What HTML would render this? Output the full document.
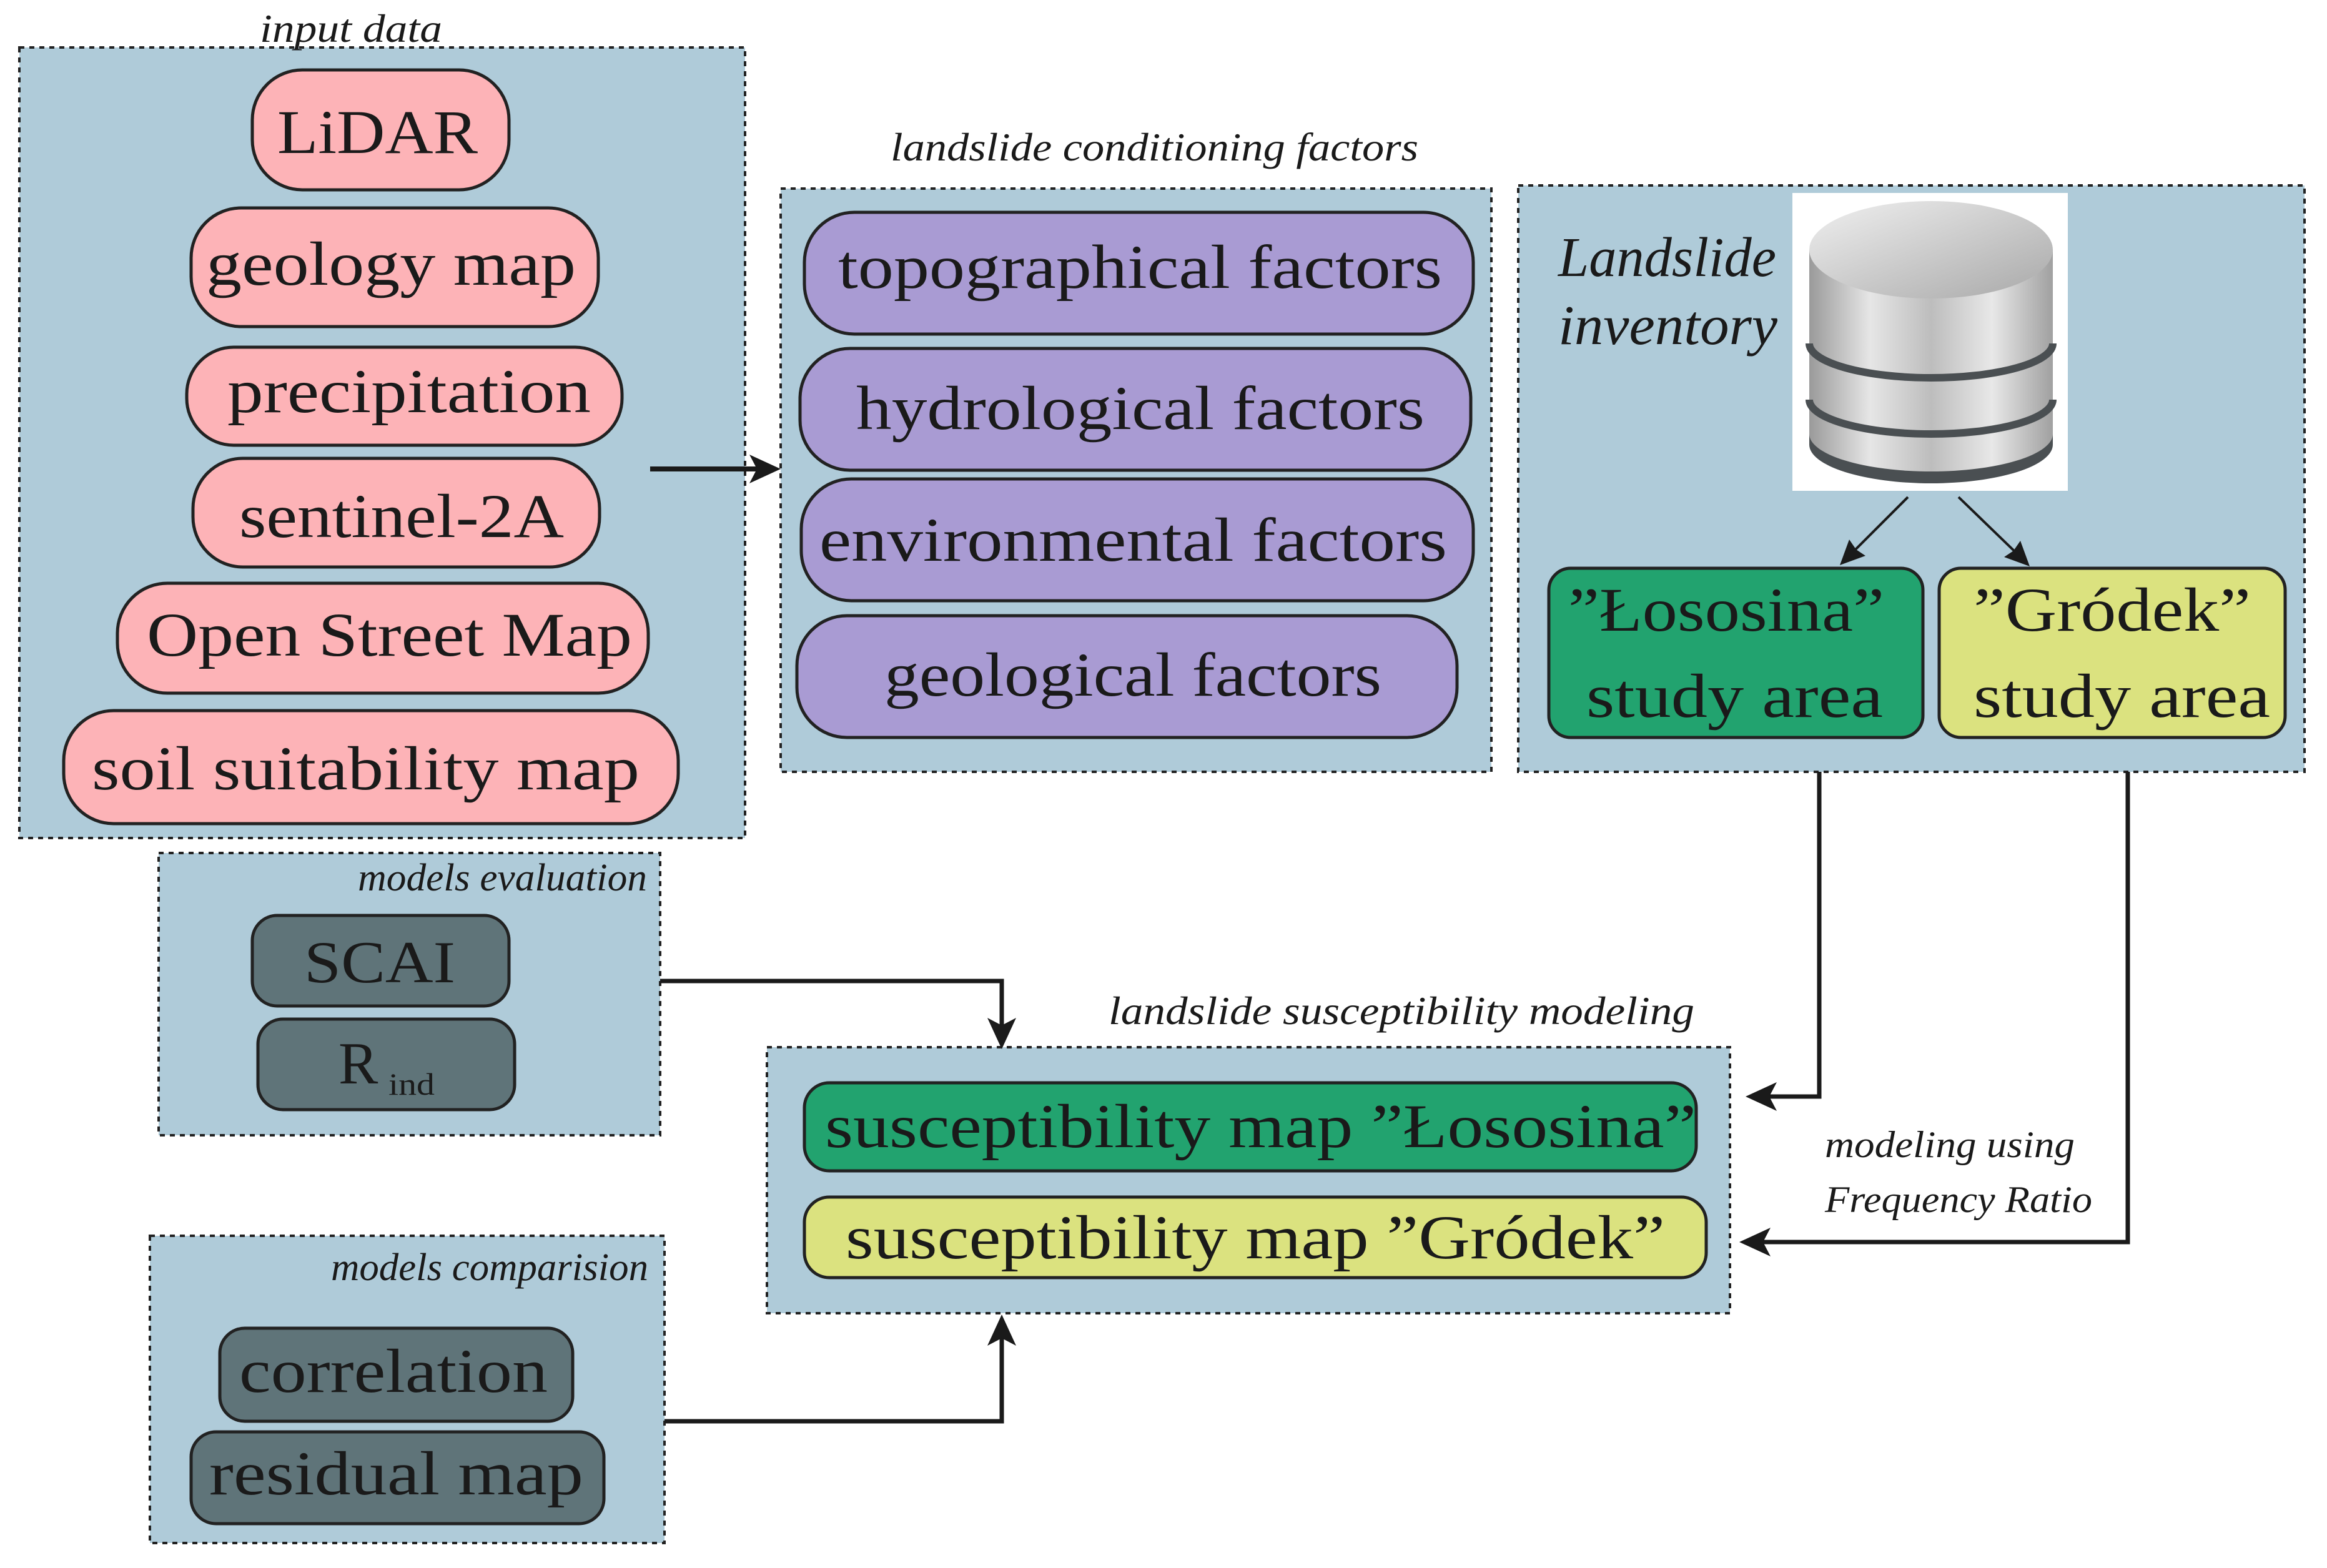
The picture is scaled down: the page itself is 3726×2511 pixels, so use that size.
<!DOCTYPE html>
<html><head><meta charset="utf-8"><style>html,body{margin:0;padding:0;background:#fff}svg{display:block}</style></head><body>
<svg width="3726" height="2511" viewBox="0 0 3726 2511" xmlns="http://www.w3.org/2000/svg" font-family="Liberation Serif, serif">
<defs>
<linearGradient id="cyl" x1="0" x2="1" y1="0" y2="0"><stop offset="0" stop-color="#9a9a9a"/><stop offset="0.25" stop-color="#e6e6e6"/><stop offset="0.5" stop-color="#bdbdbd"/><stop offset="0.75" stop-color="#e8e8e8"/><stop offset="1" stop-color="#a0a0a0"/></linearGradient>
<linearGradient id="top" x1="0" x2="1" y1="0" y2="1"><stop offset="0" stop-color="#f0f0f0"/><stop offset="1" stop-color="#a8a8a8"/></linearGradient>
</defs>
<g fill="#afcbd9" stroke="#222" stroke-width="4" stroke-dasharray="8,8">
<rect x="31" y="76" width="1162" height="1266"/>
<rect x="1250" y="302" width="1138" height="934"/>
<rect x="2431" y="297" width="1259" height="939"/>
<rect x="254" y="1366" width="803" height="452"/>
<rect x="240" y="1979" width="824" height="492"/>
<rect x="1228" y="1677" width="1542" height="426"/>
</g>
<g fill="#fdb3b7" stroke="#222" stroke-width="5">
<rect x="404" y="112" width="411" height="192" rx="80"/>
<rect x="306" y="333" width="652" height="190" rx="80"/>
<rect x="299" y="556" width="697" height="157" rx="75"/>
<rect x="309" y="734" width="651" height="174" rx="80"/>
<rect x="188" y="934" width="850" height="176" rx="80"/>
<rect x="102" y="1138" width="984" height="181" rx="80"/>
</g>
<g fill="#a99bd3" stroke="#222" stroke-width="5">
<rect x="1288" y="340" width="1071" height="195" rx="80"/>
<rect x="1281" y="558" width="1074" height="195" rx="80"/>
<rect x="1283" y="767" width="1076" height="195" rx="80"/>
<rect x="1276" y="986" width="1057" height="195" rx="80"/>
</g>
<g stroke="#222" stroke-width="5">
<rect x="2480" y="910" width="599" height="271" rx="35" fill="#22a36f"/>
<rect x="3105" y="910" width="554" height="271" rx="35" fill="#dbe27f"/>
<rect x="1288" y="1734" width="1428" height="141" rx="40" fill="#22a36f"/>
<rect x="1288" y="1917" width="1444" height="129" rx="40" fill="#dbe27f"/>
<rect x="404" y="1466" width="411" height="145" rx="40" fill="#5f7479"/>
<rect x="413" y="1632" width="411" height="145" rx="40" fill="#5f7479"/>
<rect x="352" y="2127" width="565" height="149" rx="40" fill="#5f7479"/>
<rect x="306" y="2293" width="661" height="147" rx="40" fill="#5f7479"/>
</g>
<!-- database -->
<rect x="2870" y="309" width="441" height="477" fill="#fff"/>
<g>
<path d="M2897,400 L2897,700 A195,60 0 0 0 3287,700 L3287,400 Z" fill="url(#cyl)"/>
<path d="M2897,695 A195,60 0 0 0 3287,695 L3287,712 A195,62 0 0 1 2897,712 Z" fill="#4a4f52"/>
<ellipse cx="3092" cy="400" rx="195" ry="78" fill="url(#top)"/>
<path d="M2897,550 A195,55 0 0 0 3287,550" fill="none" stroke="#4a4f52" stroke-width="12"/>
<path d="M2897,640 A195,55 0 0 0 3287,640" fill="none" stroke="#4a4f52" stroke-width="12"/>
</g>
<!-- connectors -->
<g stroke="#1a1a1a" fill="none">
<line x1="1041" y1="751" x2="1215" y2="751" stroke-width="8"/>
<line x1="3055" y1="796" x2="2968" y2="883" stroke-width="4"/>
<line x1="3136" y1="796" x2="3228" y2="885" stroke-width="4"/>
<polyline points="1057,1571 1604,1571 1604,1645" stroke-width="7"/>
<polyline points="1064,2276 1604,2276 1604,2140" stroke-width="7"/>
<polyline points="2913,1236 2913,1756 2830,1756" stroke-width="7"/>
<polyline points="3407,1236 3407,1989 2820,1989" stroke-width="7"/>
</g>
<g fill="#1a1a1a">
<polygon points="1250,751 1200,728 1212,751 1200,774"/>
<polygon points="2946,905 2987,890 2972,880 2961,864"/>
<polygon points="3250,907 3209,892 3224,882 3235,866"/>
<polygon points="1604,1680 1581,1630 1604,1642 1627,1630"/>
<polygon points="1604,2105 1581,2155 1604,2143 1627,2155"/>
<polygon points="2795,1756 2845,1733 2833,1756 2845,1779"/>
<polygon points="2785,1989 2835,1966 2823,1989 2835,2012"/>
</g>
<g fill="#1a1a1a">
<text x="444" y="245" font-size="100" textLength="321" lengthAdjust="spacingAndGlyphs">LiDAR</text>
<text x="330" y="456" font-size="100" textLength="592" lengthAdjust="spacingAndGlyphs">geology map</text>
<text x="364" y="660" font-size="100" textLength="582" lengthAdjust="spacingAndGlyphs">precipitation</text>
<text x="383" y="860" font-size="100" textLength="520" lengthAdjust="spacingAndGlyphs">sentinel-2A</text>
<text x="235" y="1050" font-size="100" textLength="777" lengthAdjust="spacingAndGlyphs">Open Street Map</text>
<text x="147" y="1264" font-size="100" textLength="877" lengthAdjust="spacingAndGlyphs">soil suitability map</text>
<text x="1342" y="461" font-size="100" textLength="967" lengthAdjust="spacingAndGlyphs">topographical factors</text>
<text x="1371" y="687" font-size="100" textLength="910" lengthAdjust="spacingAndGlyphs">hydrological factors</text>
<text x="1312" y="898" font-size="100" textLength="1005" lengthAdjust="spacingAndGlyphs">environmental factors</text>
<text x="1416" y="1114" font-size="100" textLength="796" lengthAdjust="spacingAndGlyphs">geological factors</text>
<text x="2511" y="1010" font-size="100" textLength="506" lengthAdjust="spacingAndGlyphs">”Łososina”</text>
<text x="2540" y="1148" font-size="100" textLength="475" lengthAdjust="spacingAndGlyphs">study area</text>
<text x="3160" y="1010" font-size="100" textLength="444" lengthAdjust="spacingAndGlyphs">”Gródek”</text>
<text x="3160" y="1148" font-size="100" textLength="475" lengthAdjust="spacingAndGlyphs">study area</text>
<text x="487" y="1573" font-size="95" textLength="242" lengthAdjust="spacingAndGlyphs">SCAI</text>
<text x="542" y="1735" font-size="95">R</text>
<text x="622" y="1753" font-size="50" textLength="74" lengthAdjust="spacingAndGlyphs">ind</text>
<text x="383" y="2229" font-size="100" textLength="494" lengthAdjust="spacingAndGlyphs">correlation</text>
<text x="335" y="2393" font-size="100" textLength="599" lengthAdjust="spacingAndGlyphs">residual map</text>
<text x="1321" y="1837" font-size="100" textLength="1395" lengthAdjust="spacingAndGlyphs">susceptibility map  ”Łososina”</text>
<text x="1354" y="2015" font-size="100" textLength="1312" lengthAdjust="spacingAndGlyphs">susceptibility map ”Gródek”</text>
<g font-style="italic">
<text x="416" y="67" font-size="64" textLength="292" lengthAdjust="spacingAndGlyphs">input data</text>
<text x="1426" y="257" font-size="64" textLength="845" lengthAdjust="spacingAndGlyphs">landslide conditioning factors</text>
<text x="573" y="1426" font-size="62" textLength="463" lengthAdjust="spacingAndGlyphs">models evaluation</text>
<text x="530" y="2050" font-size="62" textLength="508" lengthAdjust="spacingAndGlyphs">models comparision</text>
<text x="1775" y="1640" font-size="64" textLength="938" lengthAdjust="spacingAndGlyphs">landslide susceptibility modeling</text>
<text x="2495" y="442" font-size="90" textLength="349" lengthAdjust="spacingAndGlyphs">Landslide</text>
<text x="2495" y="551" font-size="90" textLength="351" lengthAdjust="spacingAndGlyphs">inventory</text>
<text x="2922" y="1853" font-size="60" textLength="400" lengthAdjust="spacingAndGlyphs">modeling using</text>
<text x="2922" y="1941" font-size="60" textLength="428" lengthAdjust="spacingAndGlyphs">Frequency Ratio</text>
</g>
</g>
</svg>
</body></html>
